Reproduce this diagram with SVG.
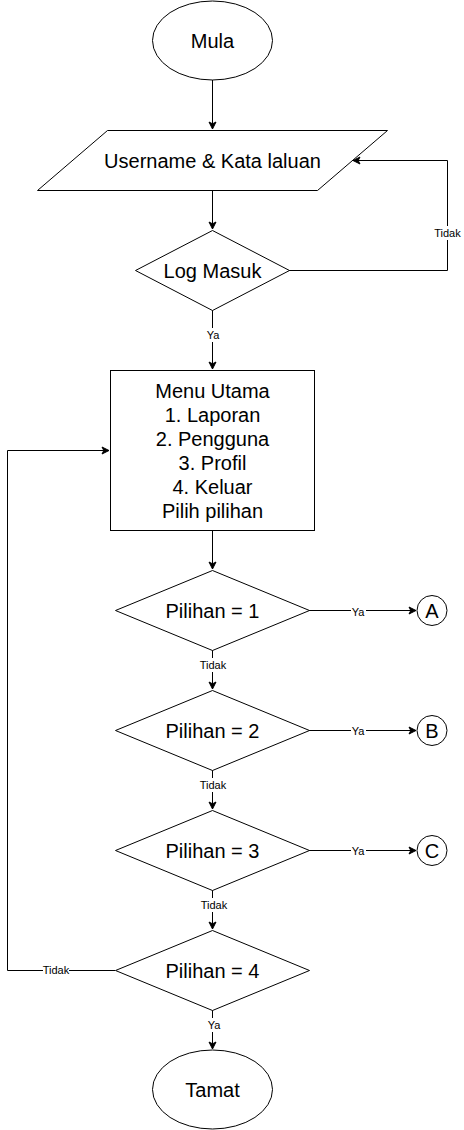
<svg xmlns="http://www.w3.org/2000/svg" width="464" height="1130" viewBox="0 0 464 1130">
<style>
.s{fill:#fff;stroke:#000;stroke-width:1}
.t{font-family:"Liberation Sans",Arial,sans-serif;font-size:20px;fill:#000;text-anchor:middle;dominant-baseline:central}
.l{font-family:"Liberation Sans",Arial,sans-serif;font-size:11px;fill:#000;text-anchor:middle;dominant-baseline:central}
.c{fill:none;stroke:#000;stroke-width:1}
.bg{fill:#fff}
</style>
<defs>
<marker id="a" markerWidth="10" markerHeight="10" refX="8" refY="5" orient="auto" markerUnits="userSpaceOnUse">
<path d="M1,1.5 L8,5 L1,8.5 L2.8,5 Z" fill="#000" stroke="#000" stroke-width="1"/>
</marker>
</defs>
<rect width="464" height="1130" fill="#fff"/>
<g id="connectors">
<path class="c" d="M212.5,80 V129" marker-end="url(#a)"/>
<path class="c" d="M212.5,190 V229" marker-end="url(#a)"/>
<path class="c" d="M289,270.5 H447.5 V160.5 H353" marker-end="url(#a)"/>
<path class="c" d="M212.5,310 V369" marker-end="url(#a)"/>
<path class="c" d="M212.5,530 V569" marker-end="url(#a)"/>
<path class="c" d="M309,610.5 H416" marker-end="url(#a)"/>
<path class="c" d="M212.5,650 V689" marker-end="url(#a)"/>
<path class="c" d="M309,730.5 H416" marker-end="url(#a)"/>
<path class="c" d="M212.5,770 V809" marker-end="url(#a)"/>
<path class="c" d="M309,850.5 H416" marker-end="url(#a)"/>
<path class="c" d="M212.5,890 V929" marker-end="url(#a)"/>
<path class="c" d="M115,970.5 H7.5 V450.5 H109" marker-end="url(#a)"/>
<path class="c" d="M212.5,1010 V1049" marker-end="url(#a)"/>
<rect class="bg" x="435" y="226" width="25" height="14"/>
<text class="l" x="447.5" y="233">Tidak</text>
<rect class="bg" x="205" y="328" width="15" height="14"/>
<text class="l" x="213" y="335">Ya</text>
<rect class="bg" x="351" y="605" width="15" height="14"/>
<text class="l" x="358" y="612">Ya</text>
<rect class="bg" x="200" y="658" width="26" height="14"/>
<text class="l" x="213" y="665">Tidak</text>
<rect class="bg" x="351" y="724" width="15" height="14"/>
<text class="l" x="358" y="731">Ya</text>
<rect class="bg" x="200" y="778" width="26" height="14"/>
<text class="l" x="213" y="785">Tidak</text>
<rect class="bg" x="351" y="844" width="15" height="14"/>
<text class="l" x="358" y="851">Ya</text>
<rect class="bg" x="201" y="898" width="26" height="14"/>
<text class="l" x="214" y="905">Tidak</text>
<rect class="bg" x="43" y="963" width="26" height="14"/>
<text class="l" x="56" y="970">Tidak</text>
<rect class="bg" x="206" y="1018" width="15" height="14"/>
<text class="l" x="214" y="1025">Ya</text>
</g>
<g id="mula">
<ellipse class="s" cx="212.5" cy="40.5" rx="60" ry="39.5"/>
<text class="t" x="212.5" y="41">Mula</text>
</g>
<g id="input">
<polygon class="s" points="107.5,130.5 387.5,130.5 317.5,190.5 37.5,190.5"/>
<text class="t" x="212.5" y="161">Username &amp; Kata laluan</text>
</g>
<g id="logmasuk">
<polygon class="s" points="212.5,230.5 289.5,270.5 212.5,310.5 135.5,270.5"/>
<text class="t" x="212.5" y="271">Log Masuk</text>
</g>
<g id="menu">
<rect class="s" x="110.5" y="370.5" width="204" height="160"/>
<text class="t" x="212.5" y="391">Menu Utama</text>
<text class="t" x="212.5" y="415">1. Laporan</text>
<text class="t" x="212.5" y="439">2. Pengguna</text>
<text class="t" x="212.5" y="463">3. Profil</text>
<text class="t" x="212.5" y="487">4. Keluar</text>
<text class="t" x="212.5" y="511">Pilih pilihan</text>
</g>
<g id="pilihan1">
<polygon class="s" points="212.5,570.5 309.5,610.5 212.5,650.5 115.5,610.5"/>
<text class="t" x="212.5" y="611">Pilihan = 1</text>
</g>
<g id="pilihan2">
<polygon class="s" points="212.5,690.5 309.5,730.5 212.5,770.5 115.5,730.5"/>
<text class="t" x="212.5" y="731">Pilihan = 2</text>
</g>
<g id="pilihan3">
<polygon class="s" points="212.5,810.5 309.5,850.5 212.5,890.5 115.5,850.5"/>
<text class="t" x="212.5" y="851">Pilihan = 3</text>
</g>
<g id="pilihan4">
<polygon class="s" points="212.5,930.5 309.5,970.5 212.5,1010.5 115.5,970.5"/>
<text class="t" x="212.5" y="971">Pilihan = 4</text>
</g>
<g id="A">
<circle class="s" cx="432" cy="610.5" r="15"/>
<text class="t" x="432" y="611">A</text>
</g>
<g id="B">
<circle class="s" cx="432" cy="730.5" r="15"/>
<text class="t" x="432" y="731">B</text>
</g>
<g id="C">
<circle class="s" cx="432" cy="850.5" r="15"/>
<text class="t" x="432" y="851">C</text>
</g>
<g id="tamat">
<ellipse class="s" cx="212.5" cy="1089.5" rx="60" ry="39.5"/>
<text class="t" x="212.5" y="1090">Tamat</text>
</g>
</svg>
